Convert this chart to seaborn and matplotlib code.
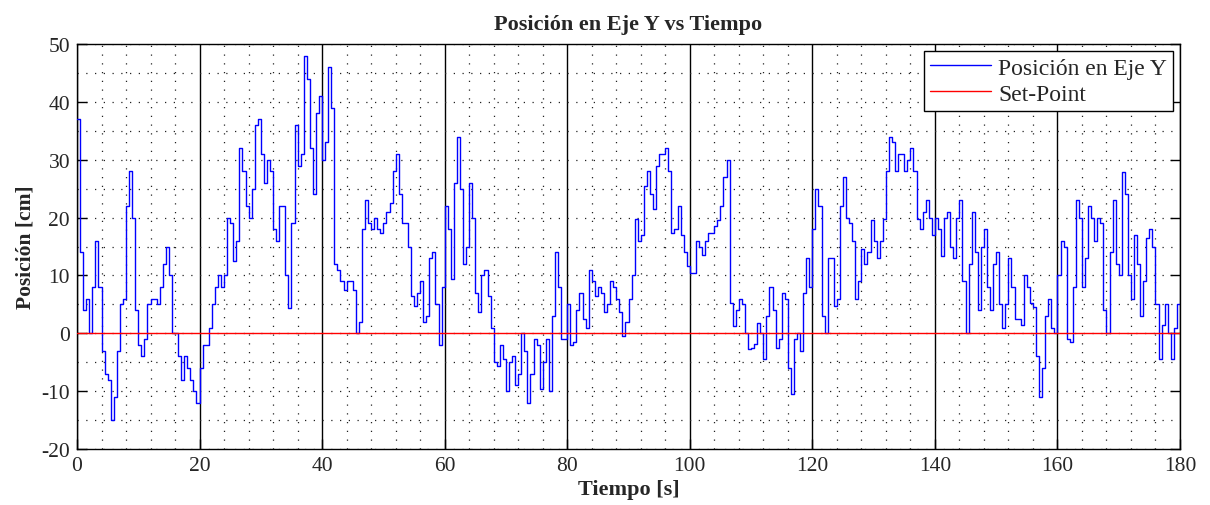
import numpy as np
import pandas as pd
import matplotlib
matplotlib.use("Agg")
import matplotlib.pyplot as plt
from matplotlib.ticker import MultipleLocator
import seaborn as sns

t_start = 0.0
t_step = 0.5
pos_y_0_20 = [37, 14, 4, 6, 0, 8, 16, 8, -3, -7, -8, -15, -11, -3, 5, 6, 22, 28, 20, 4,
              -2, -4, -1, 5, 6, 6, 5, 8, 12, 15, 10, 0, 0, -4, -8, -4, -6, -8, -10, -12]
pos_y_20_40 = [-6, -2, -2, 1, 5, 8, 10, 8, 10, 20, 19, 12.5, 16, 32, 28, 22, 20, 25, 36, 37,
               31, 26, 30, 28, 18, 16, 22, 22, 10, 4.4, 19, 36, 29, 31, 48, 44, 32, 24, 38, 41]
pos_y_40_60 = [30, 33, 46, 39, 12, 11, 9, 7.5, 9, 9, 7.5, 0, 2, 18, 23, 19, 18, 20, 18, 17.4,
               19, 21, 22.6, 28, 31, 24, 19, 19, 15, 6.5, 4.7, 7, 9, 2, 3, 13, 14, 5, -2, 8]
pos_y_60_80 = [22, 18, 9.3, 26, 34, 25, 12, 15, 26, 20, 7, 3.6, 10, 11, 6.5, 1, -5, -5.6, -2, -4.5,
               -10, -5, -4, -9, -7, 0, -3, -12, -7, -1, -2, -9.7, -5, -1, -10, 3, 14, 8, -1, -1]
pos_y_80_100 = [5, -2, -1.5, 4, 7, 2.5, 1, 11, 9, 6.5, 8, 7, 3.6, 5, 9, 8, 6, 3.6, -0.5, 2,
                6, 10, 19.7, 16, 17, 25.5, 28, 24, 21.4, 29, 31, 31, 32, 28, 17.4, 18, 22, 17, 14, 11.6]
pos_y_100_120 = [10.5, 10.5, 16, 15, 13.5, 16, 17.4, 17.4, 18.5, 19.5, 22, 27, 30, 5.3, 1.3, 4, 5.9, 5, 0, -2.8,
                 -2.5, -1.8, 1.8, 0, -4.5, 3, 8, 4, -2.5, -1, 7, 6, -6, -10.5, -1, 0, -3, 7, 13, 8]
pos_y_120_140 = [18, 25, 22, 3, 0, 13, 13, 4.7, 6, 22, 27, 20, 19, 16, 6, 9, 14.5, 12, 14, 19.5,
                 16, 13, 16, 19.7, 28, 34, 33, 28, 31, 31, 28, 30, 32, 28, 19.7, 18, 21, 23, 20, 17]
pos_y_140_160 = [20, 18, 13.4, 20, 21, 15, 13, 20, 23, 9, 0, 12, 21, 14, 4, 15, 18, 8, 4, 12,
                 14, 5, 1, 5, 13, 8, 2.4, 2.4, 1.5, 10, 8, 5.3, 4.5, -4, -11, -6, 3, 6, 1, 0]
pos_y_160_180 = [10, 16, 15, -1, -1.5, 8, 23, 20, 8, 13, 22, 20, 16, 20, 19, 4, 0, 14, 23, 12,
                 10, 27.8, 24, 10, 6, 17, 12, 3, 9, 16.5, 18, 15, 5, -4.5, 1.5, 5, 0, -4.5, 1, 5, 5]
set_point = 0.0

pos_y = (pos_y_0_20 + pos_y_20_40 + pos_y_40_60 + pos_y_60_80 + pos_y_80_100 +
         pos_y_100_120 + pos_y_120_140 + pos_y_140_160 + pos_y_160_180)
tiempo = t_start + t_step * np.arange(len(pos_y))

df = pd.DataFrame({"Tiempo": tiempo, "Posicion": pos_y,
                   "SetPoint": np.full(len(pos_y), set_point)})

# ---- style ----
sns.set_style("white")
plt.rcParams["font.family"] = ["Liberation Serif", "DejaVu Serif"]
plt.rcParams["axes.unicode_minus"] = False

fig = plt.figure(figsize=(12.10, 5.06), dpi=100)
ax = fig.add_axes([77 / 1210, 1 - 450 / 506, (1180 - 77) / 1210, (450 - 45) / 506])

sns.lineplot(data=df, x="Tiempo", y="Posicion", ax=ax, color="#0000FF", linewidth=1.0,
             drawstyle="steps-post", estimator=None, sort=False,
             label="Posición en Eje Y", zorder=3)
sns.lineplot(data=df, x="Tiempo", y="SetPoint", ax=ax, color="#FF0000", linewidth=1.0,
             estimator=None, sort=False, label="Set-Point", zorder=3)

ax.set_xlim(0, 180)
ax.set_ylim(-20, 50)
ax.xaxis.set_major_locator(MultipleLocator(20))
ax.xaxis.set_minor_locator(MultipleLocator(4))
ax.yaxis.set_major_locator(MultipleLocator(10))
ax.yaxis.set_minor_locator(MultipleLocator(5))

dot = (0, (1, 6))
ax.set_axisbelow(True)
ax.xaxis.grid(True, which="major", color="black", linestyle="-", linewidth=1.0)
ax.xaxis.grid(True, which="minor", color="#222222", linestyle=dot, linewidth=0.9)
ax.yaxis.grid(True, which="both", color="#222222", linestyle=dot, linewidth=0.9)

ax.tick_params(axis="both", which="major", direction="in", length=7, width=1,
               color="black", labelsize=15.5, left=True, right=True, bottom=True, top=False, pad=5)
ax.tick_params(axis="both", which="minor", length=0)
for s in ax.spines.values():
    s.set_color("black")
    s.set_linewidth(1.0)

ax.set_title("Posición en Eje Y vs Tiempo", fontsize=16, fontweight="bold", pad=11)
ax.set_xlabel("Tiempo [s]", fontsize=16, fontweight="bold", labelpad=3)
ax.set_ylabel("Posición [cm]", fontsize=15.5, fontweight="bold", labelpad=4)

leg = ax.legend(loc="upper right", fontsize=17, frameon=True, fancybox=False,
                edgecolor="black", framealpha=1, handlelength=2.6, borderaxespad=0.3,
                borderpad=0.25, labelspacing=0.2, handletextpad=0.3)
leg.get_frame().set_linewidth(1.0)

fig.savefig("out.png", dpi=100)
